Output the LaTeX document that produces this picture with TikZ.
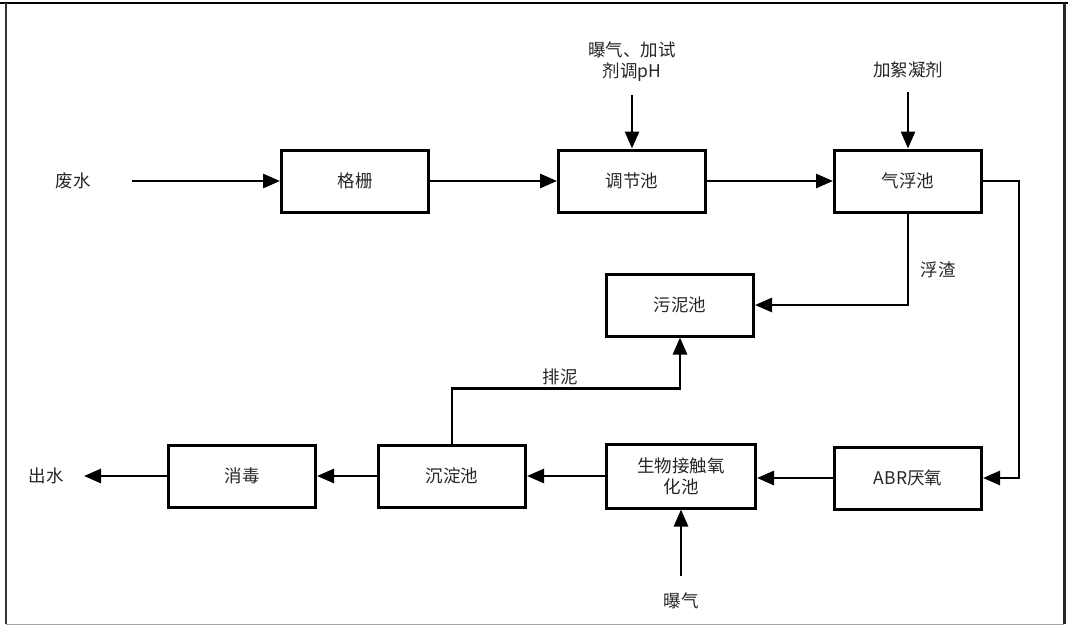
\documentclass[tikz,border=0pt]{standalone}
\usepackage{fontspec}
\setmainfont{Noto Sans CJK SC}
\usetikzlibrary{arrows.meta}
\begin{document}
\begin{tikzpicture}[x=1pt,y=-1pt,
  box/.style={draw, line width=3pt, minimum width=147pt, minimum height=62pt, inner sep=0pt, font=\fontsize{17.5}{21}\selectfont, text=black!85, align=center},
  lbl/.style={font=\fontsize{17.5}{21}\selectfont, text=black!85, align=center, inner sep=1pt},
  flow/.style={line width=2.8pt, -{Triangle[length=17pt,width=14pt]}},
  frame/.style={line width=2.5pt}]
\useasboundingbox (0,0) rectangle (1073,626);
% frame
\draw[frame] (0,3) -- (1068,3);
\draw[line width=2pt, black!80] (6,3) -- (6,624);
\draw[line width=3pt, black!85] (1064,3) -- (1064,624);
\draw[line width=1pt, black!35] (6,624) -- (1064,624);
% boxes
\node[box] (geshan) at (355,181) {格栅};
\node[box] (tiaojie) at (632,181) {调节池};
\node[box] (qifu) at (908,181) {气浮池};
\node[box] (wuni) at (680,305) {污泥池};
\node[box] (abr) at (908,478) {ABR厌氧};
\node[box, minimum width=149pt, minimum height=64pt] (shengwu) at (681,476) {生物接触氧\\化池};
\node[box] (chendian) at (452,476) {沉淀池};
\node[box] (xiaodu) at (242,476) {消毒};
% labels
\node[lbl] (feishui) at (73,181) {废水};
\node[lbl] (chushui) at (46,476) {出水};
\node[lbl] (toplbl) at (632,62) {曝气、加试\\剂调pH};
\node[lbl] (jiaxu) at (908,70) {加絮凝剂};
\node[lbl] (fuzha) at (938,270) {浮渣};
\node[lbl] (paini) at (560,377) {排泥};
\node[lbl] (baoqi) at (681,601) {曝气};
% free ends
\coordinate (in) at (132,181);
\coordinate (out) at (84,476);
\coordinate (topin) at (632,95);
\coordinate (jiaxuin) at (908,92);
\coordinate (baoqiin) at (681,576);
% connectors
\draw[flow] (in) -- (geshan.west);
\draw[flow] (geshan.east) -- (tiaojie.west);
\draw[flow] (tiaojie.east) -- (qifu.west);
\draw[flow] (topin) -- (tiaojie.north);
\draw[flow] (jiaxuin) -- (qifu.north);
\draw[flow] (qifu.east) -- ++(36,0) |- (abr.east);
\draw[flow] (qifu.south) |- (wuni.east);
\draw[flow] (abr.west) -- (shengwu.east |- abr.west);
\draw[flow] (baoqiin) -- (shengwu.south);
\draw[flow] (shengwu.west) -- (chendian.east);
\draw[flow] (chendian.north) -- ++(0,-55) -| (wuni.south);
\draw[flow] (chendian.west) -- (xiaodu.east);
\draw[flow] (xiaodu.west) -- (out);
\end{tikzpicture}
\end{document}
